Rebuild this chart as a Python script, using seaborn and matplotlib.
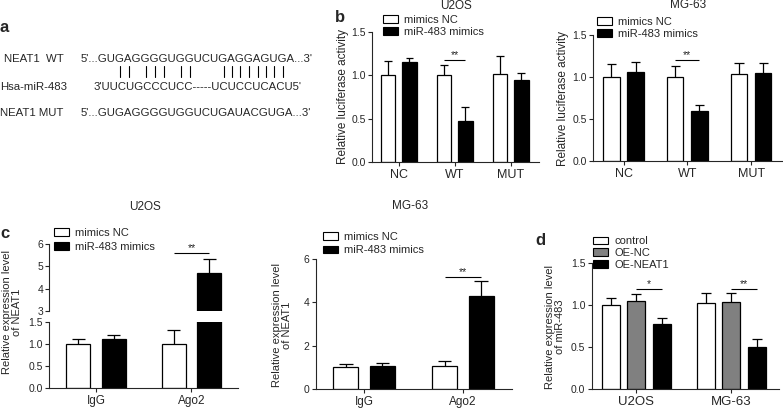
import numpy as np
import pandas as pd
import matplotlib
matplotlib.use("Agg")
import matplotlib.pyplot as plt
import seaborn as sns
from matplotlib import font_manager
from matplotlib.patches import Patch
from matplotlib.lines import Line2D
from matplotlib.font_manager import FontProperties

# ---------------- data ----------------
# panel a : sequences
wt_label = "NEAT1  WT"
mir_label = "Hsa-miR-483"
mut_label = "NEAT1 MUT"
wt_seq = "5'...GUGAGGGGUGGUCUGAGGAGUGA...3'"
mir_seq = "3'UUCUGCCCUCC-----UCUCCUCACU5'"
mut_seq = "5'...GUGAGGGGUGGUCUGAUACGUGA...3'"
wt_prefix = "5'..."
pair_idx = [3, 4, 6, 7, 8, 10, 11, 15, 16, 17, 18, 19, 20, 21, 22]  # paired letters of WT core (1-based)

# panel b : luciferase activity
b_constructs = ["NC", "WT", "MUT"]
b_groups = ["mimics NC", "miR-483 mimics"]
b_u2os_nc = [1.00, 1.00, 1.02]
b_u2os_nc_err = [0.17, 0.12, 0.21]
b_u2os_mir = [1.15, 0.47, 0.95]
b_u2os_mir_err = [0.05, 0.16, 0.08]
b_mg63_nc = [1.00, 1.00, 1.04]
b_mg63_nc_err = [0.15, 0.13, 0.12]
b_mg63_mir = [1.06, 0.59, 1.05]
b_mg63_mir_err = [0.12, 0.08, 0.12]
b_yticks = [0.0, 0.5, 1.0, 1.5]
b_u2os_sig = ("WT", 1.18, "**")
b_mg63_sig = ("WT", 1.20, "**")

# panel c : RIP
c_ip = ["IgG", "Ago2"]
c_groups = ["mimics NC", "miR-483 mimics"]
c_u2os_nc = [1.00, 1.00]
c_u2os_nc_err = [0.10, 0.31]
c_u2os_mir = [1.12, 4.69]
c_u2os_mir_err = [0.07, 0.65]
c_mg63_nc = [1.00, 1.06]
c_mg63_nc_err = [0.14, 0.23]
c_mg63_mir = [1.08, 4.28]
c_mg63_mir_err = [0.10, 0.72]
c_u2os_low_ticks = [0.0, 0.5, 1.0, 1.5]
c_u2os_high_ticks = [3, 4, 5, 6]
c_mg63_ticks = [0, 2, 4, 6]
c_u2os_sig = ("Ago2", 5.59, "**")
c_mg63_sig = ("Ago2", 5.18, "**")

# panel d : miR-483 expression
d_cells = ["U2OS", "MG-63"]
d_groups = ["control", "OE-NC", "OE-NEAT1"]
d_control = [1.00, 1.03]
d_control_err = [0.09, 0.12]
d_oenc = [1.05, 1.04]
d_oenc_err = [0.08, 0.11]
d_oeneat1 = [0.78, 0.50]
d_oeneat1_err = [0.07, 0.10]
d_yticks = [0.0, 0.5, 1.0, 1.5]
d_sigs = [("U2OS", 1.19, "*"), ("MG-63", 1.19, "**")]

# ---------------- style ----------------
sns.set_style("ticks")
avail = {f.name for f in font_manager.fontManager.ttflist}
BASE = "Liberation Sans" if "Liberation Sans" in avail else "DejaVu Sans"
NARROW = "Liberation Sans Narrow" if "Liberation Sans Narrow" in avail else BASE
plt.rcParams["font.family"] = [NARROW, "DejaVu Sans"]
plt.rcParams["axes.linewidth"] = 0.8

W, H = 783, 409
fig = plt.figure(figsize=(W / 100, H / 100), dpi=100)
fig.patch.set_facecolor("white")

YT = 7.5     # y tick label size
LEG = 8      # legend text size
TIT = 8.5    # panel titles
YL = 8.5     # y axis label size


def frac_axes(x0, y0, x1, y1):
    return fig.add_axes([x0 / W, 1 - y1 / H, (x1 - x0) / W, (y1 - y0) / H])


def fx(x):
    return x / W


def fy(y):
    return 1 - y / H


def bars(ax, cats, groups, means, errs, colors, width, gap, capfrac=0.55):
    rows = []
    for g, m in zip(groups, means):
        for c, v in zip(cats, m):
            rows.append((c, g, v))
    df = pd.DataFrame(rows, columns=["cat", "grp", "val"])
    sns.barplot(data=df, x="cat", y="val", hue="grp", order=cats, hue_order=groups,
                palette=colors, edgecolor="black", linewidth=0.9, width=width, gap=gap,
                errorbar=None, legend=False, saturation=1, ax=ax)
    patches = sorted([p for p in ax.patches], key=lambda p: p.get_x())
    centers = {}
    k = 0
    for ci, c in enumerate(cats):
        for gi, g in enumerate(groups):
            p = patches[k]
            k += 1
            xc = p.get_x() + p.get_width() / 2
            v = means[gi][ci]
            e = errs[gi][ci]
            hw = p.get_width() * capfrac / 2
            ax.vlines(xc, v, v + e, color="black", lw=0.9, zorder=3)
            ax.hlines(v + e, xc - hw, xc + hw, color="black", lw=0.9, zorder=3)
            centers[(c, g)] = xc
    return centers


def style(ax, ylim, yticks, labels, xlim, xfs, yfs=YT):
    ax.set_ylim(ylim)
    ax.set_yticks(yticks)
    ax.set_yticklabels(labels)
    ax.set_xlim(xlim)
    ax.set_xlabel("")
    ax.set_ylabel("")
    sns.despine(ax=ax)
    ax.tick_params(axis="y", labelsize=yfs, length=3, width=0.8, pad=1.5)
    ax.tick_params(axis="x", labelsize=xfs, length=3, width=0.8, pad=2)
    ax.set_facecolor("none")


def sig(ax, x0, x1, y, txt, fs=7.5):
    ax.plot([x0, x1], [y, y], color="black", lw=0.8, solid_capstyle="butt")
    ax.text((x0 + x1) / 2, y, txt, ha="center", va="bottom", fontsize=fs)


def legend(ax, groups, colors, x_px, y_px, fs=LEG, spacing=0.2):
    handles = [Patch(facecolor=c, edgecolor="black", lw=0.8, label=g) for g, c in zip(groups, colors)]
    ax.legend(handles=handles, loc="upper left", bbox_to_anchor=(fx(x_px), fy(y_px)),
              bbox_transform=fig.transFigure, frameon=False, fontsize=fs,
              handlelength=1.35, handleheight=0.7, handletextpad=0.55,
              labelspacing=spacing, borderpad=0, borderaxespad=0)


fmt1 = lambda ts: [f"{t:.1f}" for t in ts]
fmt0 = lambda ts: [f"{t:d}" for t in ts]
two_cols = ["white", "black"]
three_cols = ["white", "#808080", "black"]

# ---------------- panel b ----------------
ax = frac_axes(372, 32.3, 538.7, 161.7)
cen = bars(ax, b_constructs, b_groups, [b_u2os_nc, b_u2os_mir], [b_u2os_nc_err, b_u2os_mir_err],
           two_cols, width=0.76, gap=0.32)
style(ax, (0, 1.5), b_yticks, fmt1(b_yticks), (-0.48, 2.5), 9)
sig(ax, cen[(b_u2os_sig[0], b_groups[0])], cen[(b_u2os_sig[0], b_groups[1])], b_u2os_sig[1], b_u2os_sig[2])
legend(ax, b_groups, two_cols, 382.7, 15)
fig.text(fx(456), fy(6), "U2OS", ha="center", va="center", fontsize=TIT)
fig.text(fx(343), fy(96), "Relative luciferase activity", rotation=90, ha="center", va="center",
         fontsize=YL, family=[BASE, "DejaVu Sans"])

ax = frac_axes(593, 35, 783, 160.7)
cen = bars(ax, b_constructs, b_groups, [b_mg63_nc, b_mg63_mir], [b_mg63_nc_err, b_mg63_mir_err],
           two_cols, width=0.76, gap=0.32)
style(ax, (0, 1.5), b_yticks, fmt1(b_yticks), (-0.48, 2.5), 9)
sig(ax, cen[(b_mg63_sig[0], b_groups[0])], cen[(b_mg63_sig[0], b_groups[1])], b_mg63_sig[1], b_mg63_sig[2])
legend(ax, b_groups, two_cols, 596.7, 17)
fig.text(fx(688), fy(5), "MG-63", ha="center", va="center", fontsize=TIT)
fig.text(fx(563), fy(98), "Relative luciferase activity", rotation=90, ha="center", va="center",
         fontsize=YL, family=[BASE, "DejaVu Sans"])

# ---------------- panel c (U2OS, broken axis) ----------------
ax_hi = frac_axes(49.3, 244.3, 238.2, 310.7)
ax_lo = frac_axes(49.3, 321.7, 238.2, 388.3)
cen = bars(ax_lo, c_ip, c_groups, [c_u2os_nc, c_u2os_mir], [c_u2os_nc_err, c_u2os_mir_err],
           two_cols, width=0.74, gap=0.32)
style(ax_lo, (0, 1.5), c_u2os_low_ticks, fmt1(c_u2os_low_ticks), (-0.49, 1.49), 8.5)
cen_hi = bars(ax_hi, c_ip, c_groups, [c_u2os_nc, c_u2os_mir], [c_u2os_nc_err, c_u2os_mir_err],
              two_cols, width=0.74, gap=0.32)
style(ax_hi, (3, 6), c_u2os_high_ticks, fmt0(c_u2os_high_ticks), (-0.49, 1.49), 8.5)
ax_hi.spines["bottom"].set_visible(False)
ax_hi.set_xticks([])
sig(ax_hi, cen_hi[(c_u2os_sig[0], c_groups[0])], cen_hi[(c_u2os_sig[0], c_groups[1])],
    c_u2os_sig[1], c_u2os_sig[2])
legend(ax_hi, c_groups, two_cols, 54, 227.5, spacing=0.4)
fig.text(fx(145), fy(207), "U2OS", ha="center", va="center", fontsize=TIT)
fig.text(fx(12), fy(312), "Relative expression level\nof NEAT1", rotation=90, ha="center",
         va="center", fontsize=8, linespacing=0.95, family=[BASE, "DejaVu Sans"])

# ---------------- panel c (MG-63) ----------------
ax = frac_axes(315.7, 259, 512.3, 389)
cen = bars(ax, c_ip, c_groups, [c_mg63_nc, c_mg63_mir], [c_mg63_nc_err, c_mg63_mir_err],
           two_cols, width=0.74, gap=0.32)
style(ax, (0, 6), c_mg63_ticks, fmt0(c_mg63_ticks), (-0.49, 1.5), 8.5)
sig(ax, cen[(c_mg63_sig[0], c_groups[0])], cen[(c_mg63_sig[0], c_groups[1])], c_mg63_sig[1], c_mg63_sig[2])
legend(ax, c_groups, two_cols, 322.7, 232, spacing=0.3)
fig.text(fx(410), fy(206), "MG-63", ha="center", va="center", fontsize=TIT)
fig.text(fx(282), fy(325), "Relative expression level\nof NEAT1", rotation=90, ha="center",
         va="center", fontsize=8, linespacing=0.95, family=[BASE, "DejaVu Sans"])

# ---------------- panel d ----------------
ax = frac_axes(591.7, 263.3, 778.7, 389)
cen = bars(ax, d_cells, d_groups, [d_control, d_oenc, d_oeneat1],
           [d_control_err, d_oenc_err, d_oeneat1_err], three_cols, width=0.81, gap=0.30)
style(ax, (0, 1.5), d_yticks, fmt1(d_yticks), (-0.47, 1.5), 9.5)
for cell, yv, txt in d_sigs:
    sig(ax, cen[(cell, d_groups[1])], cen[(cell, d_groups[2])], yv, txt)
legend(ax, d_groups, three_cols, 593.3, 236.3, spacing=0.15)
fig.text(fx(555), fy(327), "Relative expression level\nof miR-483", rotation=90, ha="center",
         va="center", fontsize=8, linespacing=0.95, family=[BASE, "DejaVu Sans"])

# ---------------- panel a ----------------
seq_fs = 8.2
seq_family = [BASE, "DejaVu Sans"]
fig.text(fx(4), fy(59.3), wt_label, ha="left", va="center", fontsize=seq_fs, family=seq_family)
fig.text(fx(0), fy(87), mir_label, ha="left", va="center", fontsize=seq_fs, family=seq_family)
fig.text(fx(0), fy(113), mut_label, ha="left", va="center", fontsize=seq_fs, family=seq_family)
wt_x0 = 81
fig.text(fx(wt_x0), fy(59.3), wt_seq, ha="left", va="center", fontsize=seq_fs, family=seq_family)
fig.text(fx(94), fy(87), mir_seq, ha="left", va="center", fontsize=seq_fs, family=seq_family)
fig.text(fx(wt_x0), fy(113), mut_seq, ha="left", va="center", fontsize=seq_fs, family=seq_family)

renderer = fig.canvas.get_renderer()
fp = FontProperties(family=seq_family, size=seq_fs)


def tw(s):
    if not s:
        return 0.0
    return renderer.get_text_width_height_descent(s, fp, ismath=False)[0]


for i in pair_idx:
    n = len(wt_prefix) + i - 1
    xc = wt_x0 + (tw(wt_seq[:n]) + tw(wt_seq[:n + 1])) / 2
    fig.add_artist(Line2D([fx(xc), fx(xc)], [fy(65.5), fy(76.5)], color="black", lw=0.8,
                          transform=fig.transFigure))

# ---------------- panel letters ----------------
for lt, x, y in [("a", 0, 27), ("b", 335, 18), ("c", 0, 234), ("d", 535, 240)]:
    fig.text(fx(x), fy(y), lt, ha="left", va="center", fontsize=12, fontweight="bold",
             family=[BASE, "DejaVu Sans"])

fig.savefig("out.png", dpi=100, facecolor="white")
